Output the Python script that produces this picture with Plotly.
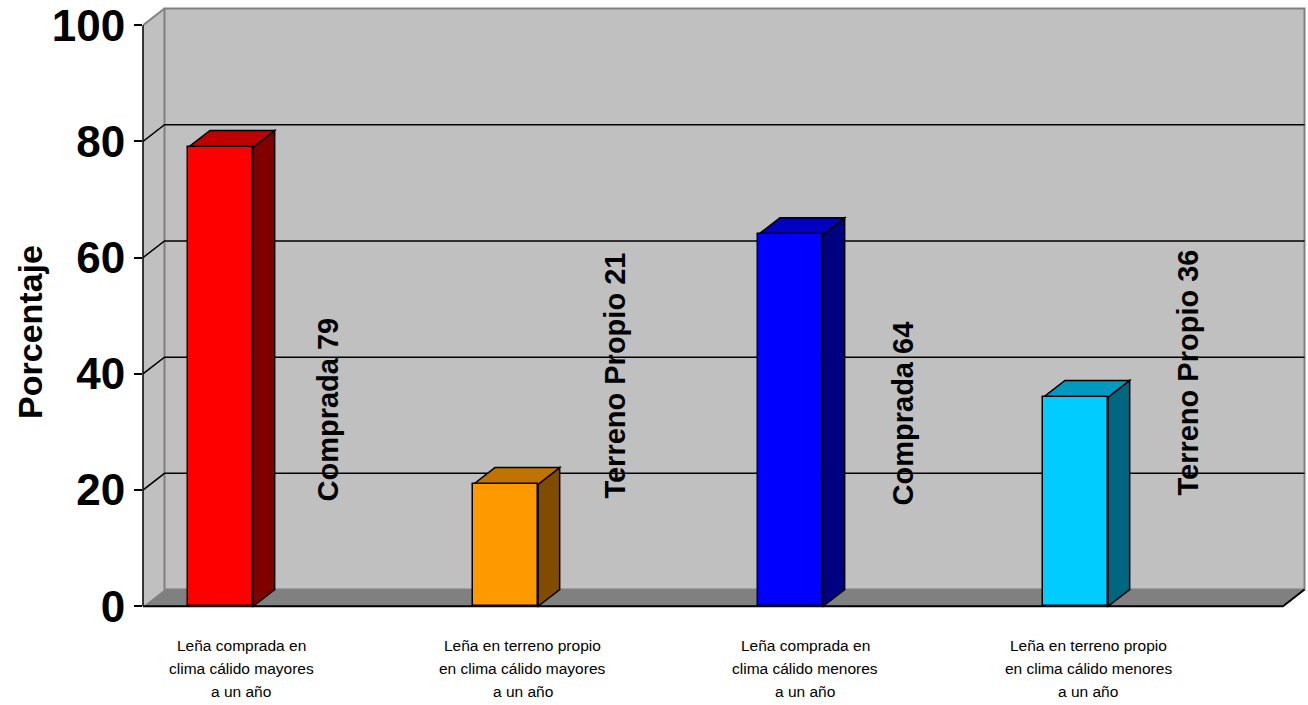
import plotly.graph_objects as go

# ---- data -------------------------------------------------------------
categories = [
    "Leña comprada en\nclima cálido mayores\na un año",
    "Leña en terreno propio\nen clima cálido mayores\na un año",
    "Leña comprada en\nclima cálido menores\na un año",
    "Leña en terreno propio\nen clima cálido menores\na un año",
]
origin = ["Comprada", "Terreno Propio", "Comprada", "Terreno Propio"]
values = [79, 21, 64, 36]
y_ticks = [0, 20, 40, 60, 80, 100]

# ---- styling ----------------------------------------------------------
front_colors = ["#FF0000", "#FF9900", "#0000FF", "#00CCFF"]
top_colors = ["#C00000", "#C07300", "#0000C0", "#0099C0"]
side_colors = ["#800000", "#804C00", "#000080", "#006680"]

FONT = "Liberation Sans, Arial, sans-serif"
NARROW = "Liberation Sans Narrow, Arial Narrow, Liberation Sans, Arial, sans-serif"

N = len(values)
X_MAX = 1163 / 285          # category slots are 285 px wide
BAR_OFF, BAR_W = 0.273, 0.227
DX, DY = 0.0755, 2.87       # depth of the 3-D box in axis units
WALL = "#C0C0C0"
FLOOR = "#808080"

label_x_off = [0.65, 0.655, 0.665, 0.665]
label_base = [17.9, 18.3, 17.1, 18.8]
cat_x_off = [0.345, 0.333, 0.323, 0.316]
cat_line_y = [-0.0615, -0.0997, -0.1395]

fig = go.Figure()

# front faces of the columns
bar_x = [i + BAR_OFF for i in range(N)]
fig.add_trace(go.Bar(
    x=bar_x, y=values, width=BAR_W,
    marker=dict(color=front_colors, line=dict(color="black", width=1.5)),
    hoverinfo="skip", showlegend=False,
))

shapes = []
# left side wall
shapes.append(dict(type="path", xref="x", yref="y", layer="below",
                   path=f"M 0,0 L {DX},{DY} L {DX},{100 + DY} L 0,100 Z",
                   fillcolor=WALL, line=dict(width=0)))
shapes.append(dict(type="line", xref="x", yref="y", layer="below",
                   x0=0, y0=100, x1=DX, y1=100 + DY,
                   line=dict(color="#808080", width=2)))
# back wall
shapes.append(dict(type="rect", xref="x", yref="y", layer="below",
                   x0=DX, y0=DY, x1=N + DX, y1=100 + DY,
                   fillcolor=WALL, line=dict(color="#808080", width=2)))
# floor
shapes.append(dict(type="path", xref="x", yref="y", layer="below",
                   path=f"M 0,0 L {N},0 L {N + DX},{DY} L {DX},{DY} Z",
                   fillcolor=FLOOR, line=dict(width=0)))
shapes.append(dict(type="path", xref="x", yref="y", layer="below",
                   path=f"M 0,0 L {N},0 L {N + DX},{DY}",
                   line=dict(color="black", width=2)))
# gridlines running across the side wall and the back wall
for v in y_ticks[1:-1]:
    shapes.append(dict(type="path", xref="x", yref="y", layer="below",
                       path=f"M 0,{v} L {DX},{v + DY} L {N + DX},{v + DY}",
                       line=dict(color="black", width=1.5)))
# top and right faces of every column
for i, v in enumerate(values):
    x0 = bar_x[i] - BAR_W / 2
    x1 = bar_x[i] + BAR_W / 2
    shapes.append(dict(type="path", xref="x", yref="y", layer="below",
                       path=(f"M {x1},0 L {x1 + DX},{DY} L {x1 + DX},{v + DY} "
                             f"L {x1},{v} Z"),
                       fillcolor=side_colors[i],
                       line=dict(color="black", width=1.5)))
    shapes.append(dict(type="path", xref="x", yref="y", layer="below",
                       path=(f"M {x0},{v} L {x0 + DX},{v + DY} L {x1 + DX},{v + DY} "
                             f"L {x1},{v} Z"),
                       fillcolor=top_colors[i],
                       line=dict(color="black", width=1.5)))
# front vertical axis line (0 to 100 only)
shapes.append(dict(type="line", xref="paper", yref="y", layer="above",
                   x0=0, x1=0, y0=0, y1=100,
                   line=dict(color="black", width=1.5)))

annotations = []
# rotated value labels
for i, (name, v) in enumerate(zip(origin, values)):
    annotations.append(dict(
        x=i + label_x_off[i], y=label_base[i], xref="x", yref="y",
        text=f"{name} {v}", textangle=-90, showarrow=False,
        xanchor="center", yanchor="bottom", borderpad=0,
        font=dict(family=FONT, size=29, color="black", weight="bold"),
    ))
# category labels, one annotation per line
for i, cat in enumerate(categories):
    for k, line in enumerate(cat.split("\n")):
        annotations.append(dict(
            x=i + cat_x_off[i], y=cat_line_y[k], xref="x", yref="paper",
            text=line, showarrow=False, xanchor="center", yanchor="middle",
            font=dict(family=FONT, size=15.5, color="black"),
        ))
# axis title
annotations.append(dict(
    x=-0.0972, y=0.4585, xref="paper", yref="paper",
    text="Porcentaje", textangle=-90, showarrow=False,
    xanchor="center", yanchor="middle",
    font=dict(family=NARROW, size=34, color="black", weight="bold"),
))

fig.update_layout(
    width=1308, height=705,
    margin=dict(l=143, r=2, t=6, b=97, pad=0),
    paper_bgcolor="white", plot_bgcolor="white",
    shapes=shapes, annotations=annotations,
    bargap=0, showlegend=False,
    xaxis=dict(range=[0, X_MAX], showticklabels=False, showgrid=False,
               zeroline=False, showline=False, ticks=""),
    yaxis=dict(range=[-0.3, 103.3], tickvals=y_ticks, ticks="outside",
               ticklen=8, tickwidth=1.5, tickcolor="black",
               ticklabelstandoff=0,
               showgrid=False, zeroline=False, showline=False,
               tickfont=dict(family=FONT, size=44, color="black",
                             weight="bold")),
)

fig.write_html("out.html")
